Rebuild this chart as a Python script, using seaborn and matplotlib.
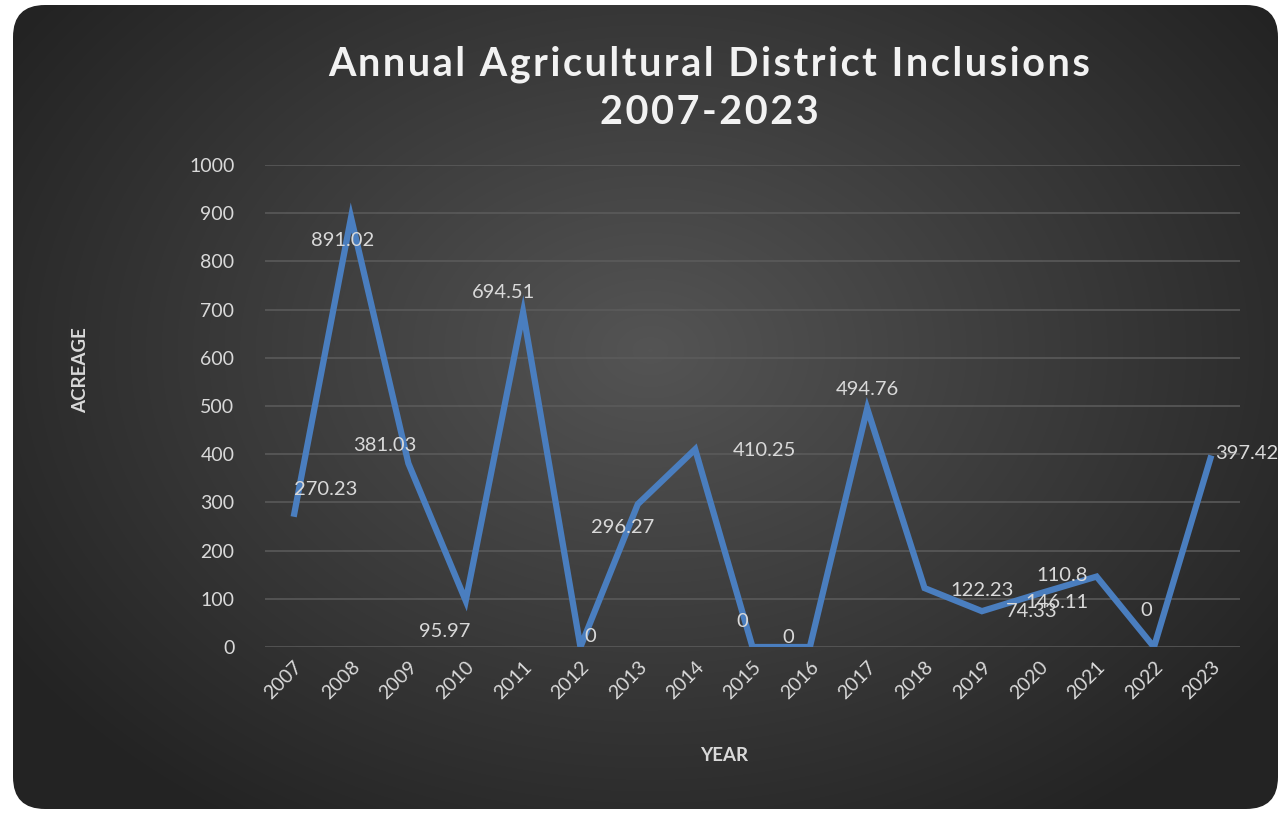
import numpy as np
import pandas as pd
import matplotlib.pyplot as plt
import seaborn as sns
from matplotlib.patches import FancyBboxPatch

# Chart data
years = ['2007', '2008', '2009', '2010', '2011', '2012', '2013', '2014', '2015',
         '2016', '2017', '2018', '2019', '2020', '2021', '2022', '2023']
acreage = [270.23, 891.02, 381.03, 95.97, 694.51, 0, 296.27, 410.25, 0,
           0, 494.76, 122.23, 74.33, 110.8, 146.11, 0, 397.42]
labels = ['270.23', '891.02', '381.03', '95.97', '694.51', '0', '296.27', '410.25', '0',
          '0', '494.76', '122.23', '74.33', '110.8', '146.11', '0', '397.42']
title_lines = ['Annual Agricultural District Inclusions', '2007-2023']

# where each data label sits (offset from its point, in data units)
label_dx = [0.55, -0.14, -0.41, -0.36, -0.35, 0.17, -0.26, 1.2, -0.18,
            -0.38, 0.01, 1.0, 0.86, 0.4, -0.69, -0.14, 0.62]
label_dy = [56, -47, 36, -63, 40, 21, -49, -3, 52,
            19, 40, -6, -1, 38, -53, 75, 3]

df = pd.DataFrame({'Year': years, 'Acreage': acreage})

sns.set_theme(style='white')
plt.rcParams['font.family'] = ['Lato', 'DejaVu Sans']

W, H = 1283, 814
fig = plt.figure(figsize=(W / 100, H / 100), dpi=100)
fig.patch.set_facecolor('white')

# background panel with radial gradient
bg = fig.add_axes([0, 0, 1, 1], zorder=0)
bg.set_xlim(0, W)
bg.set_ylim(H, 0)
bg.axis('off')
yy, xx = np.mgrid[0:H, 0:W]
r = np.sqrt(((xx - 650) / 760) ** 2 + ((yy - 350) / 560) ** 2)
r = np.clip(r, 0, 1)
shade = 0.33 - 0.19 * r
img = np.dstack([shade, shade, shade])
panel = FancyBboxPatch((13, 5), W - 18, H - 10, boxstyle='round,pad=0,rounding_size=32',
                       transform=bg.transData, facecolor='none', edgecolor='none')
bg.add_patch(panel)
im = bg.imshow(img, extent=(0, W, H, 0), interpolation='bilinear')
im.set_clip_path(panel)

ax = fig.add_axes([265 / W, 1 - 647 / H, (1240 - 265) / W, (647 - 165) / H], zorder=1)
ax.set_facecolor('none')

sns.lineplot(data=df, x='Year', y='Acreage', ax=ax, color='#4a7ebf', linewidth=4.5,
             sort=False, solid_joinstyle='miter', solid_capstyle='butt')

ax.set_xlim(-0.5, len(years) - 0.5)
ax.set_ylim(0, 1000)
ax.set_yticks(range(0, 1001, 100))
ax.yaxis.grid(True, color='#5c5c5c', linewidth=1.1)
ax.set_axisbelow(True)
for s in ax.spines.values():
    s.set_visible(False)

txt_col = '#d9d9d9'
ax.tick_params(axis='y', colors=txt_col, labelsize=14, length=0, pad=22)
ax.tick_params(axis='x', colors=txt_col, labelsize=14, length=0, pad=8)
plt.setp(ax.get_xticklabels(), rotation=45, ha='right', va='top', rotation_mode='anchor')

for i, lab in enumerate(labels):
    ax.text(i + label_dx[i], acreage[i] + label_dy[i], lab, color=txt_col,
            fontsize=14.5, ha='center', va='center')

ax.set_xlabel('YEAR', color=txt_col, fontsize=13.5, fontweight='bold', labelpad=32)
ax.set_ylabel('ACREAGE', color=txt_col, fontsize=13.5, fontweight='bold', labelpad=72)
ax.xaxis.label.set_x(0.471)
ax.yaxis.label.set_y(0.575)

# title with widened letter spacing (hair spaces between letters)
spaced = '\n'.join('\u200a'.join(line) for line in title_lines)
fig.text(0.553, 1 - 88 / H, spaced, ha='center', va='center', fontsize=28.5,
         fontweight='bold', color='#f2f2f2', linespacing=1.35)

fig.savefig('out.png', dpi=100)
